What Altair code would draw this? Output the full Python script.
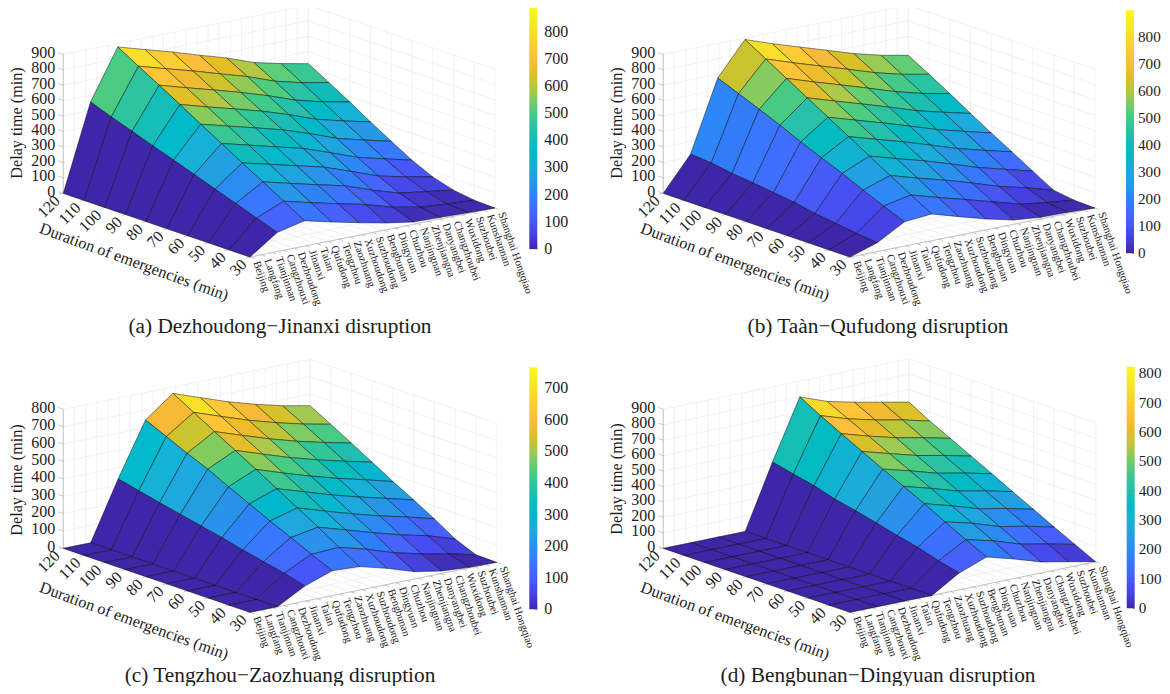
import altair as alt

stations = ["Beijing","Langfang","Tianjinnan","Cangzhouxi","Dezhoudong","Jinanxi","Taian","Qufudong","Tengzhou","Zaozhuang","Xuzhoudong","Suzhoudong","Bengbunan","Dingyuan","Chuzhou","Nanjingnan","Zhenjiangna","Danyangbei","Changzhoubei","Wuxidong","Suzhoubei","Kunshannan","Shanghai Hongqiao"]
durations = [120,110,100,90,80,70,60,50,40,30]

# delay values: one row per surface column, from the 120 min edge to the 30 min edge
delay_a = [
 [0,0,0,0,0,0,0,0,0,0],
 [556,505,458,409,363,316,267,220,171,124],
 [877,798,721,642,560,481,401,324,245,164],
 [825,747,669,591,513,435,357,279,200,121],
 [774,697,620,543,466,389,312,235,158,81],
 [718,643,568,493,418,343,268,193,118,44],
 [665,590,512,435,358,280,205,130,65,15],
 [600,525,448,370,292,215,140,75,30,10],
 [558,480,402,324,246,170,100,50,15,5],
 [522,445,366,282,203,126,64,24,5,0],
]
delay_b = [
 [0,0,0,0,0,0,0,0,0,0],
 [218,207,185,170,153,135,109,91,72,57],
 [676,621,565,508,445,388,333,271,213,157],
 [890,810,730,650,570,490,410,330,250,173],
 [828,750,672,594,516,438,358,278,198,120],
 [771,694,617,540,463,386,309,230,150,70],
 [715,638,561,484,407,330,253,176,100,28],
 [658,580,503,426,349,272,195,118,50,10],
 [612,534,456,380,302,225,148,75,25,8],
 [576,499,420,337,257,180,101,24,5,0],
]
delay_c = [
 [0,0,0,0,0,0,0,0,0,0],
 [0,0,0,0,0,0,0,0,0,0],
 [335,308,280,254,228,202,172,146,120,87],
 [643,588,533,482,422,364,307,252,197,143],
 [764,695,626,558,490,420,350,280,205,135],
 [707,640,572,505,437,370,300,232,162,93],
 [652,586,520,453,387,320,252,185,110,42],
 [605,540,474,408,342,276,208,140,72,14],
 [565,500,435,368,302,236,170,103,40,3],
 [533,467,399,330,260,195,127,52,2,0],
]
delay_d = [
 [0,0,0,0,0,0,0,0,0,0],
 [0,0,0,0,0,0,0,0,0,0],
 [0,0,0,0,0,0,0,0,0,0],
 [0,0,0,0,0,0,0,0,0,0],
 [413,381,352,311,282,249,214,183,142,109],
 [798,723,652,583,515,449,383,311,242,176],
 [733,666,600,533,467,400,333,266,198,127],
 [691,622,553,484,415,346,277,208,140,71],
 [655,586,517,448,380,311,243,174,105,36],
 [619,542,476,407,339,269,201,132,66,0],
]

parula = ["#3e26a8","#4030ba","#443cd4","#4643e4","#4749ee","#4752f4","#475ef9","#4567fd","#3e6fff","#3878fe","#2f7ef9","#2d88f6","#2b90ee","#2698e5","#239fdf","#1fa5df","#1cabdb","#16b1d6","#0cb4d0","#01b8ca","#02bac2","#0bbcbd","#18bdb5","#25bfac","#2cc3a0","#31c698","#3fc98b","#4ccc80","#63cc75","#7bcc64","#8ccb59","#aec84c","#c1c531","#d1c22c","#e2be27","#edbc2a","#f6ba37","#fdbd3d","#fec33a","#fdc936","#fccf30","#fad62d","#f9dd2a","#f7e227","#f5e924","#f5f020","#f6f51b","#f9fb14"]

BLACK = "#1c1c1c"
SERIF = "Liberation Serif"

panels = [
 dict(A=(63.3,193.3), B=(250,257), C=(495,208), z=delay_a, ztop=900, zmax=887, cb=(529.3,8,241), cbt=800, lab=(16,7),
      cap="(a) Dezhoudong\u2212Jinanxi disruption", capxy=(280,327), ztitle=(17,123), dtitle=(134,262)),
 dict(A=(663.3,193.3), B=(850,257), C=(1095,208), z=delay_b, ztop=900, zmax=898, cb=(1126,10.3,243), cbt=800, lab=(15.2,4),
      cap="(b) Ta\u00e0n\u2212Qufudong disruption", capxy=(878,327), ztitle=(617,123), dtitle=(735,262)),
 dict(A=(63.3,548.3), B=(250,612.3), C=(496.7,562.3), z=delay_c, ztop=800, zmax=767, cb=(529.3,367.3,242), cbt=700, lab=(16,7),
      cap="(c) Tengzhou\u2212Zaozhuang disruption", capxy=(280,675.5), ztitle=(17,480), dtitle=(134,621)),
 dict(A=(663.3,548.3), B=(850,612.3), C=(1095.7,561.7), z=delay_d, ztop=900, zmax=822, cb=(1126.7,366.7,241.6), cbt=800, lab=(15.2,4),
      cap="(d) Bengbunan\u2212Dingyuan disruption", capxy=(878,675.5), ztitle=(617,479), dtitle=(735,621)),
]

OFF = 8
ZPX = 139.0


def line(a, b):
    return {"type": "Feature", "properties": {}, "geometry": {"type": "LineString", "coordinates": [[a[0]-OFF, a[1]-OFF], [b[0]-OFF, b[1]-OFF]]}}


def geo_lines(feats, color, width):
    return alt.Chart(alt.InlineData(values=feats)).mark_geoshape(filled=False, stroke=color, strokeWidth=width).project(type="identity", scale=1, translate=[0, 0], reflectY=False)


def texts(rows, size, angle=0, align="center", baseline="middle"):
    rows = [{"x": r[0]-OFF, "y": r[1]-OFF, "t": r[2]} for r in rows]
    return alt.Chart(alt.InlineData(values=rows)).mark_text(font=SERIF, fontSize=size, angle=angle, align=align, baseline=baseline, color=BLACK).encode(
        x=alt.X("x:Q", scale=None, axis=None), y=alt.Y("y:Q", scale=None, axis=None), text="t:N")


grid_layers, surf_layers, top_layers = [], [], []
for p in panels:
    A, B, C = p["A"], p["B"], p["C"]
    si = ((C[0]-B[0])/9, (C[1]-B[1])/9)
    sk = ((B[0]-A[0])/9, (B[1]-A[1])/9)
    zs = ZPX / p["ztop"]

    def pt(i, k, z=0.0):
        return (A[0]+si[0]*i+sk[0]*k, A[1]+si[1]*i+sk[1]*k-z*zs)

    ticks = list(range(0, p["ztop"]+1, 100))
    grid = []
    for z in ticks:
        grid.append(line(pt(0, 0, z), pt(9, 0, z)))
        grid.append(line(pt(9, 0, z), pt(9, 9, z)))
    for n in range(len(stations)):
        i = n*9/22
        grid.append(line(pt(i, 0, 0), pt(i, 0, p["ztop"])))
        grid.append(line(pt(i, 0, 0), pt(i, 9, 0)))
    for k in range(10):
        grid.append(line(pt(9, k, 0), pt(9, k, p["ztop"])))
        grid.append(line(pt(0, k, 0), pt(9, k, 0)))
    grid_layers.append(geo_lines(grid, "#ececec", 0.7))

    axes = [line(pt(0, 0, 0), pt(0, 0, p["ztop"])), line(pt(0, 0, 0), pt(0, 9, 0)), line(pt(0, 9, 0), pt(9, 9, 0))]
    for z in ticks:
        q = pt(0, 0, z)
        axes.append(line(q, (q[0]-5, q[1]-1.7)))
    for k in range(10):
        q = pt(0, k, 0)
        axes.append(line(q, (q[0]-4, q[1]+0.8)))
    for n in range(len(stations)):
        q = pt(n*9/22, 9, 0)
        axes.append(line(q, (q[0]+4, q[1]+1.4)))
    grid_layers.append(geo_lines(axes, "#b0b0b0", 0.7))

    feats = []
    Z = p["z"]
    for i in range(8, -1, -1):
        for k in range(0, 9):
            ring = [pt(i, k, Z[i][k]), pt(i+1, k, Z[i+1][k]), pt(i+1, k+1, Z[i+1][k+1]), pt(i, k+1, Z[i][k+1])]
            ring.append(ring[0])
            feats.append({"type": "Feature", "properties": {"v": Z[i][k+1]},
                          "geometry": {"type": "Polygon", "coordinates": [[[c[0]-OFF, c[1]-OFF] for c in ring]]}})
    cbx, cby, cbl = p["cb"]
    vals = list(range(0, p["cbt"]+1, 100))
    surf_layers.append(
        alt.Chart(alt.InlineData(values=feats)).mark_geoshape(stroke="#000000", strokeWidth=0.75, strokeOpacity=0.6)
        .project(type="identity", scale=1, translate=[0, 0], reflectY=False)
        .encode(color=alt.Color("properties.v:Q",
            scale=alt.Scale(domain=[-0.5, p["zmax"]], range=parula, interpolate="rgb"),
            legend=alt.Legend(orient="none", legendX=cbx-OFF, legendY=cby-OFF, title=None, direction="vertical", type="gradient",
                              gradientLength=cbl, gradientThickness=8, gradientStrokeWidth=0, values=vals, labelFont=SERIF,
                              labelFontSize=p["lab"][0], labelColor=BLACK, labelOffset=p["lab"][1], labelOverlap=False, labelBaseline="middle",
                              labelSeparation=0, padding=0)))
    )

    cbticks = []
    for v in vals:
        y = cby + cbl - v/p["zmax"]*cbl
        cbticks.append(line((cbx+6, y), (cbx+8, y)))
    top_layers.append(geo_lines(cbticks, "#333333", 0.6))

    top_layers.append(texts([(pt(0, 0, z)[0]-8, pt(0, 0, z)[1]-1.5, str(z)) for z in ticks], 16, align="right"))
    top_layers.append(texts([(pt(0, k, 0)[0]-6, pt(0, k, 0)[1]+5, str(d)) for k, d in enumerate(durations)], 16, angle=315, align="right"))
    top_layers.append(texts([(pt(n*9/22, 9, 0)[0]+6, pt(n*9/22, 9, 0)[1]+4.5, s) for n, s in enumerate(stations)], 10.8, angle=71, align="left"))
    top_layers.append(texts([(p["ztitle"][0], p["ztitle"][1], "Delay time (min)")], 16.2, angle=270))
    top_layers.append(texts([(p["dtitle"][0], p["dtitle"][1], "Duration of emergencies (min)")], 16.2, angle=20))
    top_layers.append(texts([(p["capxy"][0], p["capxy"][1], p["cap"])], 21.3))

chart = alt.layer(*grid_layers, *surf_layers, *top_layers).resolve_scale(color="independent").properties(
    width=1154, height=678, padding=0, autosize="none", background="white"
).configure_view(stroke=None)

chart.save("out.html", embed_options={"renderer": "svg", "actions": False})
